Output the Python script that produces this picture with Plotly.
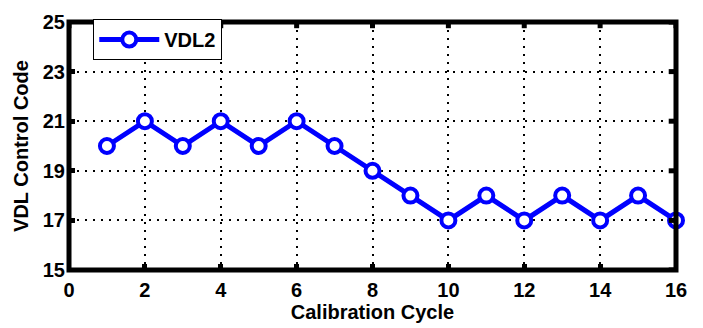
import plotly.graph_objects as go

cycles = list(range(1, 17))
vdl2 = [20, 21, 20, 21, 20, 21, 20, 19, 18, 17, 18, 17, 18, 17, 18, 17]
x_ticks = [0, 2, 4, 6, 8, 10, 12, 14, 16]
y_ticks = [15, 17, 19, 21, 23, 25]

fig = go.Figure()
fig.add_trace(go.Scatter(
    x=cycles, y=vdl2, mode="lines+markers", name="VDL2",
    line=dict(color="#0000ff", width=5),
    marker=dict(symbol="circle", size=14, color="white",
                line=dict(color="#0000ff", width=4)),
    cliponaxis=False,
))

font = dict(family="Liberation Sans, Arial", size=20, color="black", weight="bold")
axis_common = dict(
    showline=False, mirror=False,
    ticks="inside", ticklen=6, tickwidth=5, tickcolor="black",
    showgrid=True, gridcolor="black", gridwidth=1.5, griddash="2px,6px",
    zeroline=False, tickfont=font,
)
fig.update_xaxes(range=[0, 16], tickvals=x_ticks, ticklabelstandoff=6,
                 title=dict(text="Calibration Cycle", font=font, standoff=2),
                 **axis_common)
fig.update_yaxes(range=[15, 25], tickvals=y_ticks, ticklabelstandoff=3,
                 title=dict(text="VDL Control Code", font=font, standoff=8),
                 **axis_common)

# frame around the plotting area
fig.add_shape(type="rect", xref="paper", yref="paper", x0=0, y0=0, x1=1, y1=1,
              line=dict(color="black", width=5), layer="above")
# mirrored inside ticks on top and right
for xv in x_ticks:
    fig.add_shape(type="line", xref="x", yref="paper", x0=xv, x1=xv, y0=1, y1=0.975,
                  line=dict(color="black", width=5), layer="above")
for yv in y_ticks:
    fig.add_shape(type="line", xref="paper", yref="y", x0=1, x1=0.988, y0=yv, y1=yv,
                  line=dict(color="black", width=5), layer="above")

fig.update_layout(
    width=703, height=328,
    margin=dict(l=69, r=27, t=11, b=57),
    paper_bgcolor="white", plot_bgcolor="white",
    showlegend=True,
    legend=dict(x=0.04, y=1.012, xanchor="left", yanchor="top",
                bgcolor="white", bordercolor="black", borderwidth=1,
                font=font, itemwidth=60, tracegroupgap=0),
)
fig.write_html("out.html")
